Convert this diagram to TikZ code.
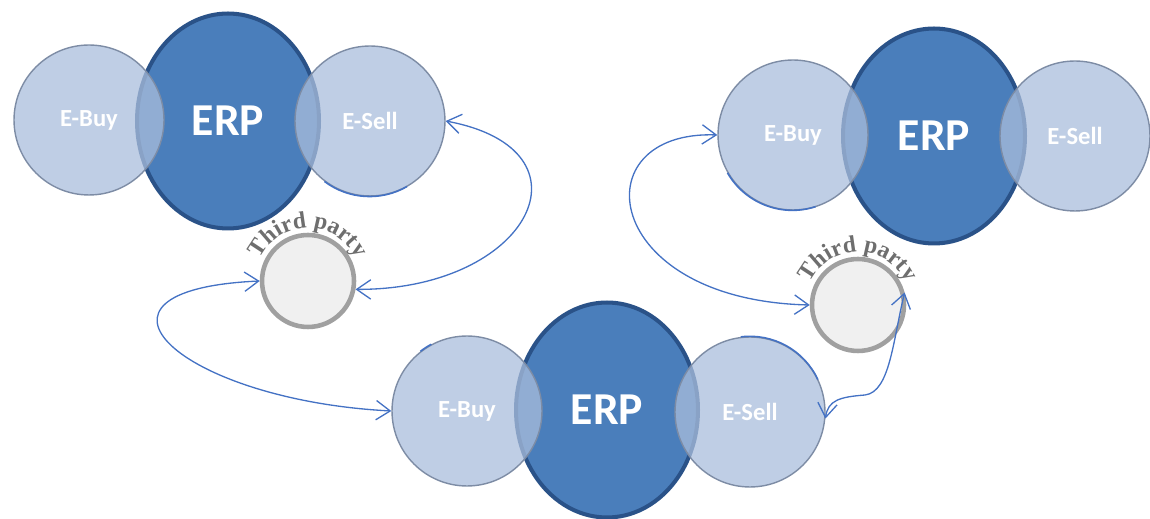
\documentclass[tikz,border=0pt]{standalone}
\usepackage{fontspec}
\setsansfont{Carlito}
\newfontfamily\tpfont{Liberation Serif}
\usetikzlibrary{shapes.geometric,arrows.meta,decorations.text}

\definecolor{erpfill}{RGB}{74,126,187}
\definecolor{erpline}{RGB}{42,82,136}
\definecolor{satfill}{RGB}{170,190,220}
\definecolor{satline}{RGB}{125,140,165}
\definecolor{tpfill}{RGB}{240,240,240}
\definecolor{tpline}{RGB}{160,160,160}
\definecolor{linkblue}{RGB}{68,114,196}
\definecolor{tptext}{RGB}{110,110,110}

\begin{document}
\begin{tikzpicture}[x=0.02cm,y=0.02cm,
  erp/.style={ellipse, draw=erpline, fill=erpfill, line width=2.3pt,
    minimum width=3.64cm, minimum height=4.3cm, inner sep=0pt, text=white,
    font=\sffamily\bfseries\fontsize{26}{30}\selectfont},
  sat/.style={ellipse, draw=satline, fill=satfill, fill opacity=0.75, text opacity=1,
    line width=0.8pt, minimum width=3cm, minimum height=3cm, inner sep=0pt, text=white,
    font=\sffamily\bfseries\fontsize{14}{17}\selectfont},
  party/.style={circle, draw=tpline, fill=tpfill, line width=2.6pt,
    minimum size=1.84cm, inner sep=0pt},
  link/.style={draw=linkblue, line width=0.75pt, <->,
    >={Straight Barb[length=8pt,width=11pt]}},
  rim/.style={draw=linkblue, line width=0.9pt},
  partylabel/.style={decorate, decoration={text along path, text align=center,
    text color=tptext, text={|\tpfont\bfseries\fontsize{13.5}{16}\selectfont|Third party}}},
]
\useasboundingbox (0,0) rectangle (1150,-519);

% first cluster, top left
\node[erp] (erp1) at (228,-121) {ERP};
\node[sat] (eb1) at (89,-120) {E-Buy};
\node[sat] (es1) at (370,-121) {E-Sell};

% second cluster, top right
\node[erp] (erp2) at (934,-136) {ERP};
\node[sat] (eb2) at (793,-135) {E-Buy};
\node[sat] (es2) at (1075,-136) {E-Sell};

% third cluster, bottom
\node[erp] (erp3) at (607,-410) {ERP};
\node[sat] (eb3) at (467,-411) {E-Buy};
\node[sat] (es3) at (750,-412) {E-Sell};

% third parties, each with a curved caption
\node[party] (tp1) at (308,-281) {};
\node[party] (tp2) at (858,-305) {};
\path[partylabel] (tp1.center) ++(168:53) arc[start angle=168, end angle=12, radius=53];
\path[partylabel] (tp2.center) ++(168:53) arc[start angle=168, end angle=12, radius=53];

% blue rims on the satellite circles
\draw[rim] (es1.-127) arc[start angle=-127, end angle=-60, radius=75];
\draw[rim] (eb2.-150) arc[start angle=-150, end angle=-72, radius=75];
\draw[rim] (es3.97) arc[start angle=97, end angle=25, radius=75];
\draw[rim] (eb3.128) arc[start angle=128, end angle=118, radius=75];

% exchanges through the third parties
\draw[link] (tp1.-10) .. controls (530,-290) and (600,-150) .. (es1.east);
\draw[link] (tp1.west) .. controls (60,-290) and (180,-400) .. (eb3.west);
\draw[link] (eb2.west) .. controls (580,-130) and (600,-300) .. (tp2.west);
\draw[link] (es3.-5) .. controls (828,-400) and (840,-397) .. (865,-395)
  .. controls (890,-392) and (893,-340) .. (tp2.15);
\end{tikzpicture}
\end{document}
